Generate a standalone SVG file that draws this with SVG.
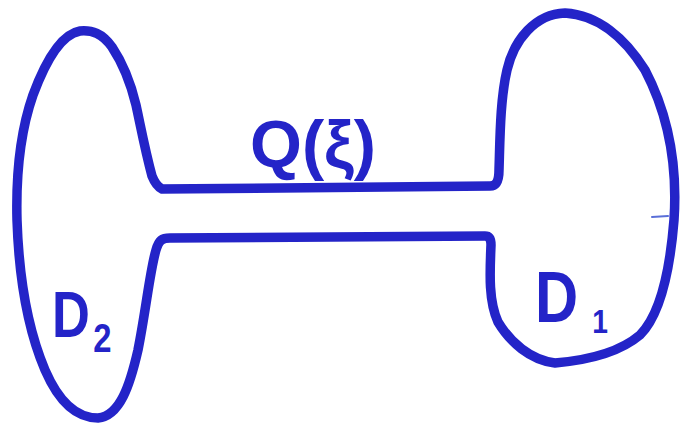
<svg xmlns="http://www.w3.org/2000/svg" width="688" height="426" viewBox="0 0 688 426">
  <style>
    .ink { fill: none; stroke: #2424c8; stroke-width: 9.5; stroke-linecap: round; stroke-linejoin: round; }
    .lbl { fill: #2424c8; font-family: "Liberation Sans", "DejaVu Sans", sans-serif; font-weight: bold; }
  </style>
  <rect width="688" height="426" fill="#ffffff"/>
  <g id="outline">
    <path class="ink" d="M 490 186 L 162 189 Q 156 186 152 176 C 145 150 141 128 136 105 C 130 80 122 62 112 47 C 102 33 92 30 80 31 C 62 34 46 60 33 95 C 19 135 16 180 17 220 C 19 280 28 330 45 370 C 58 400 75 418 98 418 C 120 416 130 385 138 350 C 146 310 150 270 156 250 C 159 240 162 238 170 238 L 485 236 Q 491 236 491 245 C 490 270 488 300 498 322 C 510 342 530 360 555 363 C 590 360 620 352 640 335 C 660 315 670 270 674 220 C 678 160 666 110 645 70 C 625 38 598 15 565 13 C 535 14 514 40 507 70 C 500 100 500 140 499 170 C 499 182 496 186 490 186 Z"/>
    <line x1="652" y1="217" x2="668" y2="216" stroke="#5a6fd8" stroke-width="2" stroke-linecap="round"/>
  </g>
  <g id="label-Q">
    <text class="lbl" x="250" y="167" font-size="66" textLength="126" lengthAdjust="spacingAndGlyphs">Q(ξ)</text>
  </g>
  <g id="label-D2">
    <text class="lbl" font-size="64" transform="translate(52,337) scale(0.82,1)">D<tspan font-size="40" dx="4" dy="15">2</tspan></text>
  </g>
  <g id="label-D1">
    <text class="lbl" font-size="72" transform="translate(535,322) scale(0.83,1)">D<tspan font-size="34" dx="17" dy="11">1</tspan></text>
  </g>
</svg>
